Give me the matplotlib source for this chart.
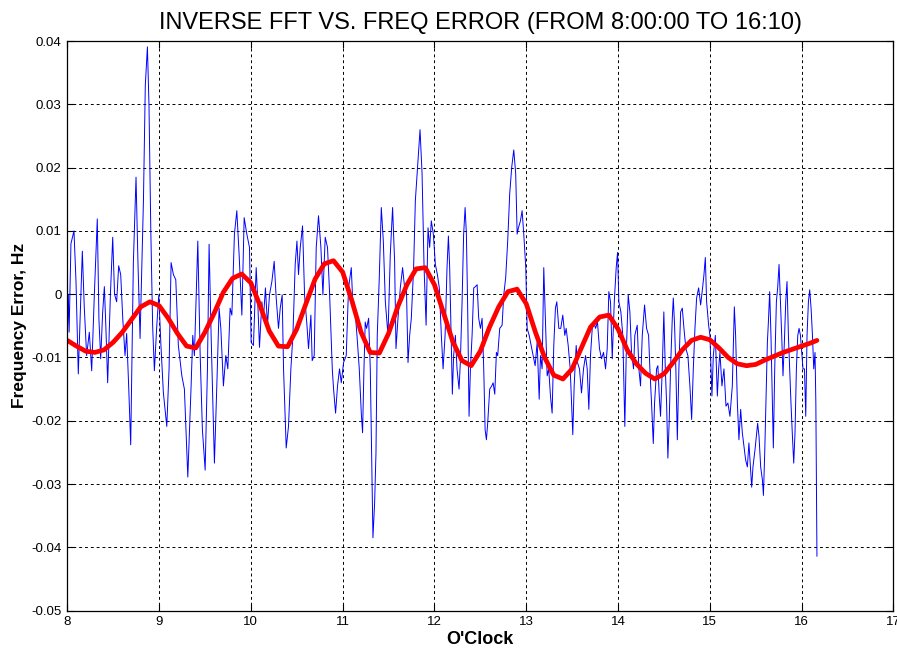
# Frequency error over the working day, raw samples vs. inverse-FFT reconstruction

import matplotlib.pyplot as plt
from matplotlib.ticker import FormatStrFormatter

plt.rcParams['font.family'] = ['Liberation Sans', 'DejaVu Sans']
plt.rcParams['axes.unicode_minus'] = False

# measured frequency error (hours of day, Hz)
raw_hours = [
    8.000, 8.011, 8.020, 8.040, 8.073, 8.095, 8.120, 8.140, 8.164, 8.185,
    8.211, 8.240, 8.266, 8.295, 8.327, 8.345, 8.364, 8.385, 8.404, 8.420,
    8.440, 8.470, 8.495, 8.515, 8.538, 8.560, 8.582, 8.605, 8.629, 8.647,
    8.670, 8.691, 8.720, 8.749, 8.770, 8.793, 8.830, 8.850, 8.873, 8.890,
    8.910, 8.930, 8.949, 8.975, 8.997, 9.020, 9.047, 9.084, 9.109, 9.131,
    9.156, 9.182, 9.210, 9.248, 9.276, 9.313, 9.349, 9.367, 9.385, 9.422,
    9.447, 9.472, 9.502, 9.527, 9.545, 9.567, 9.603, 9.629, 9.654, 9.673,
    9.701, 9.727, 9.749, 9.774, 9.793, 9.821, 9.847, 9.872, 9.902, 9.927,
    9.956, 9.985, 10.003, 10.028, 10.058, 10.072, 10.094, 10.120, 10.137, 10.159,
    10.181, 10.203, 10.229, 10.254, 10.276, 10.301, 10.320, 10.341, 10.356, 10.374,
    10.385, 10.410, 10.436, 10.458, 10.483, 10.502, 10.519, 10.538, 10.563, 10.585,
    10.611, 10.628, 10.654, 10.668, 10.690, 10.712, 10.737, 10.763, 10.785, 10.810,
    10.835, 10.857, 10.887, 10.901, 10.923, 10.944, 10.966, 10.985, 11.010, 11.039,
    11.064, 11.094, 11.108, 11.130, 11.156, 11.181, 11.203, 11.217, 11.232, 11.246,
    11.261, 11.283, 11.301, 11.320, 11.330, 11.348, 11.363, 11.377, 11.399, 11.421,
    11.443, 11.465, 11.494, 11.519, 11.544, 11.566, 11.581, 11.603, 11.628, 11.653,
    11.675, 11.694, 11.712, 11.730, 11.748, 11.773, 11.792, 11.821, 11.843, 11.865,
    11.887, 11.909, 11.930, 11.948, 11.966, 11.988, 12.010, 12.032, 12.053, 12.075,
    12.094, 12.116, 12.137, 12.152, 12.166, 12.181, 12.195, 12.209, 12.228, 12.246,
    12.268, 12.282, 12.301, 12.318, 12.334, 12.348, 12.362, 12.377, 12.392, 12.410,
    12.428, 12.446, 12.465, 12.482, 12.501, 12.519, 12.537, 12.552, 12.566, 12.580,
    12.602, 12.624, 12.639, 12.657, 12.675, 12.689, 12.711, 12.737, 12.755, 12.776,
    12.798, 12.820, 12.842, 12.864, 12.885, 12.901, 12.915, 12.937, 12.955, 12.973,
    12.995, 13.010, 13.032, 13.053, 13.075, 13.097, 13.119, 13.141, 13.155, 13.173,
    13.191, 13.209, 13.228, 13.245, 13.264, 13.282, 13.300, 13.318, 13.333, 13.355,
    13.376, 13.398, 13.420, 13.435, 13.457, 13.479, 13.493, 13.507, 13.522, 13.544,
    13.558, 13.580, 13.602, 13.624, 13.646, 13.664, 13.682, 13.700, 13.719, 13.736,
    13.755, 13.776, 13.798, 13.820, 13.842, 13.864, 13.882, 13.900, 13.918, 13.937,
    13.959, 13.980, 13.995, 14.009, 14.031, 14.052, 14.074, 14.089, 14.111, 14.129,
    14.147, 14.169, 14.183, 14.209, 14.227, 14.245, 14.264, 14.289, 14.311, 14.333,
    14.347, 14.365, 14.384, 14.398, 14.420, 14.434, 14.449, 14.463, 14.482, 14.499,
    14.515, 14.529, 14.543, 14.558, 14.572, 14.591, 14.602, 14.616, 14.630, 14.646,
    14.663, 14.682, 14.700, 14.718, 14.739, 14.761, 14.783, 14.802, 14.820, 14.838,
    14.856, 14.878, 14.900, 14.921, 14.936, 14.951, 14.965, 14.987, 15.001, 15.023,
    15.038, 15.060, 15.082, 15.096, 15.110, 15.132, 15.154, 15.176, 15.197, 15.219,
    15.245, 15.267, 15.281, 15.300, 15.317, 15.336, 15.354, 15.372, 15.390, 15.409,
    15.426, 15.445, 15.456, 15.470, 15.492, 15.507, 15.521, 15.536, 15.554, 15.573,
    15.584, 15.598, 15.609, 15.627, 15.638, 15.652, 15.666, 15.682, 15.692, 15.707,
    15.725, 15.739, 15.754, 15.769, 15.783, 15.797, 15.812, 15.827, 15.841, 15.856,
    15.870, 15.884, 15.900, 15.914, 15.928, 15.943, 15.958, 15.972, 15.987, 16.001,
    16.015, 16.031, 16.045, 16.059, 16.074, 16.088, 16.103, 16.118, 16.132, 16.146,
    16.155, 16.162, 16.167,
]
raw_error = [
    -0.0070, 0.0000, -0.0060, 0.0080, 0.0100, 0.0020, -0.0126, -0.0040, 0.0068, -0.0020,
    -0.0097, -0.0060, -0.0121, 0.0000, 0.0119, -0.0040, -0.0102, -0.0030, 0.0012, -0.0050,
    -0.0140, 0.0000, 0.0090, 0.0000, -0.0012, 0.0045, 0.0031, -0.0040, -0.0097, -0.0062,
    -0.0150, -0.0238, 0.0050, 0.0185, 0.0050, -0.0070, 0.0150, 0.0330, 0.0391, 0.0300,
    0.0100, -0.0050, -0.0121, -0.0050, -0.0001, -0.0080, -0.0156, -0.0209, -0.0118, 0.0050,
    0.0031, 0.0023, -0.0081, -0.0129, -0.0150, -0.0289, -0.0145, -0.0065, -0.0097, 0.0084,
    -0.0092, -0.0214, -0.0278, -0.0118, 0.0079, -0.0065, -0.0267, -0.0145, -0.0022, -0.0054,
    -0.0145, -0.0097, -0.0118, -0.0022, -0.0033, 0.0095, 0.0132, 0.0063, -0.0033, 0.0121,
    0.0095, 0.0074, -0.0076, -0.0081, 0.0042, -0.0001, -0.0084, -0.0012, -0.0038, 0.0010,
    -0.0049, -0.0001, 0.0020, 0.0052, -0.0006, -0.0054, -0.0022, -0.0001, -0.0118, -0.0198,
    -0.0243, -0.0209, -0.0118, -0.0065, 0.0047, 0.0084, 0.0031, 0.0074, 0.0108, -0.0001,
    -0.0049, -0.0086, -0.0033, -0.0105, -0.0097, 0.0074, 0.0124, 0.0074, -0.0001, 0.0090,
    0.0074, 0.0004, -0.0118, -0.0150, -0.0188, -0.0145, -0.0118, -0.0140, -0.0108, -0.0097,
    0.0010, 0.0042, -0.0006, -0.0017, -0.0065, -0.0118, -0.0188, -0.0219, -0.0118, -0.0044,
    -0.0054, -0.0038, -0.0118, -0.0294, -0.0385, -0.0331, -0.0251, -0.0065, 0.0026, 0.0137,
    0.0084, -0.0012, -0.0065, 0.0063, 0.0137, 0.0052, -0.0086, -0.0038, 0.0010, 0.0042,
    0.0010, 0.0015, -0.0108, -0.0065, -0.0038, 0.0042, 0.0148, 0.0212, 0.0260, 0.0191,
    0.0042, -0.0049, 0.0105, 0.0074, 0.0116, 0.0095, 0.0047, 0.0031, 0.0010, -0.0065,
    -0.0118, -0.0065, 0.0042, 0.0092, 0.0042, -0.0065, -0.0158, -0.0097, -0.0065, -0.0118,
    -0.0150, -0.0108, -0.0012, 0.0095, 0.0137, 0.0095, -0.0022, -0.0193, -0.0118, -0.0065,
    0.0010, 0.0012, 0.0015, -0.0038, -0.0054, -0.0038, -0.0118, -0.0214, -0.0230, -0.0204,
    -0.0150, -0.0145, -0.0140, -0.0158, -0.0092, -0.0097, -0.0054, -0.0049, -0.0001, 0.0026,
    0.0084, 0.0159, 0.0201, 0.0228, 0.0191, 0.0095, 0.0105, 0.0116, 0.0132, 0.0095,
    0.0042, -0.0054, -0.0065, -0.0081, -0.0097, -0.0113, -0.0076, -0.0166, -0.0097, -0.0118,
    0.0042, -0.0044, -0.0129, -0.0118, -0.0161, -0.0188, -0.0081, -0.0022, -0.0012, -0.0054,
    -0.0054, -0.0033, -0.0065, -0.0054, -0.0081, -0.0118, -0.0172, -0.0222, -0.0145, -0.0081,
    -0.0108, -0.0118, -0.0156, -0.0118, -0.0097, -0.0118, -0.0182, -0.0097, -0.0054, -0.0044,
    -0.0054, -0.0044, -0.0086, -0.0102, -0.0092, -0.0118, -0.0086, 0.0004, -0.0012, -0.0102,
    -0.0012, 0.0042, 0.0066, -0.0012, -0.0028, -0.0065, -0.0209, -0.0097, -0.0001, -0.0028,
    -0.0092, -0.0118, -0.0065, -0.0049, -0.0118, -0.0145, -0.0065, -0.0017, -0.0054, -0.0065,
    -0.0118, -0.0172, -0.0236, -0.0172, -0.0118, -0.0113, -0.0161, -0.0193, -0.0118, -0.0028,
    -0.0118, -0.0172, -0.0259, -0.0198, -0.0118, -0.0038, -0.0006, -0.0049, -0.0118, -0.0230,
    -0.0118, -0.0028, -0.0022, -0.0054, -0.0086, -0.0097, -0.0145, -0.0198, -0.0118, -0.0054,
    -0.0006, 0.0010, -0.0017, 0.0010, 0.0031, 0.0058, -0.0012, -0.0049, -0.0065, -0.0161,
    -0.0097, -0.0065, -0.0161, -0.0118, -0.0092, -0.0145, -0.0118, -0.0177, -0.0172, -0.0193,
    -0.0145, -0.0020, -0.0065, -0.0172, -0.0230, -0.0182, -0.0219, -0.0241, -0.0262, -0.0273,
    -0.0235, -0.0278, -0.0305, -0.0273, -0.0246, -0.0225, -0.0204, -0.0225, -0.0273, -0.0294,
    -0.0318, -0.0251, -0.0182, -0.0076, -0.0044, 0.0004, -0.0065, -0.0172, -0.0243, -0.0118,
    -0.0012, 0.0010, 0.0047, -0.0012, -0.0065, -0.0129, -0.0076, -0.0012, 0.0020, -0.0065,
    -0.0118, -0.0172, -0.0225, -0.0267, -0.0219, -0.0118, -0.0065, -0.0054, -0.0065, -0.0092,
    -0.0118, -0.0118, -0.0193, -0.0065, -0.0012, 0.0007, -0.0022, -0.0065, -0.0118, -0.0092,
    -0.0172, -0.0305, -0.0414,
]

# inverse FFT of the low-frequency components
ifft_hours = [
    8.0, 8.1, 8.2, 8.3, 8.4, 8.5, 8.6, 8.7, 8.8, 8.9,
    9.0, 9.1, 9.2, 9.3, 9.4, 9.5, 9.6, 9.7, 9.8, 9.9,
    10.0, 10.1, 10.2, 10.3, 10.4, 10.5, 10.6, 10.7, 10.8, 10.9,
    11.0, 11.1, 11.2, 11.3, 11.4, 11.5, 11.6, 11.7, 11.8, 11.9,
    12.0, 12.1, 12.2, 12.3, 12.4, 12.5, 12.6, 12.7, 12.8, 12.9,
    13.0, 13.1, 13.2, 13.3, 13.4, 13.5, 13.6, 13.7, 13.8, 13.9,
    14.0, 14.1, 14.2, 14.3, 14.4, 14.5, 14.6, 14.7, 14.8, 14.9,
    15.0, 15.1, 15.2, 15.3, 15.4, 15.5, 15.6, 15.7, 15.8, 15.9,
    16.0, 16.1, 16.167,
]
ifft_error = [
    -0.0073, -0.0082, -0.0090, -0.0092, -0.0088, -0.0076, -0.0060, -0.0040, -0.0020, -0.0012,
    -0.0018, -0.0038, -0.0062, -0.0082, -0.0085, -0.0060, -0.0030, 0.0003, 0.0025, 0.0032,
    0.0018, -0.0018, -0.0058, -0.0082, -0.0083, -0.0055, -0.0015, 0.0024, 0.0048, 0.0053,
    0.0035, -0.0010, -0.0060, -0.0092, -0.0093, -0.0062, -0.0020, 0.0015, 0.0040, 0.0042,
    0.0015, -0.0030, -0.0075, -0.0105, -0.0113, -0.0090, -0.0052, -0.0020, 0.0004, 0.0008,
    -0.0015, -0.0060, -0.0100, -0.0128, -0.0134, -0.0118, -0.0085, -0.0052, -0.0036, -0.0033,
    -0.0055, -0.0088, -0.0110, -0.0125, -0.0134, -0.0126, -0.0108, -0.0088, -0.0073, -0.0068,
    -0.0072, -0.0085, -0.0100, -0.0110, -0.0113, -0.0111, -0.0104, -0.0098, -0.0092, -0.0087,
    -0.0082, -0.0077, -0.0073,
]

fig = plt.figure(figsize=(8.97, 6.53), dpi=100)
ax = fig.add_axes([0.075, 0.065, 0.921, 0.872])

ax.plot(raw_hours, raw_error, color='blue', linewidth=0.7)
ax.plot(ifft_hours, ifft_error, color='red', linewidth=3.4,
        solid_capstyle='round', solid_joinstyle='round')

ax.set_xlim(8, 17)
ax.set_ylim(-0.05, 0.04)
ax.set_xticks(range(8, 18))
ax.set_yticks([-0.05, -0.04, -0.03, -0.02, -0.01, 0, 0.01, 0.02, 0.03, 0.04])
ax.yaxis.set_major_formatter(FormatStrFormatter('%g'))
ax.tick_params(direction='in', length=5, width=0.8, labelsize=9.5,
               top=True, right=True, pad=4)

ax.grid(True, color='black', linestyle=(0, (3, 3)), linewidth=0.7)
for s in ax.spines.values():
    s.set_linewidth(0.9)

ax.set_title('INVERSE FFT VS. FREQ ERROR (FROM 8:00:00 TO 16:10)',
             fontsize=17, pad=9)
ax.set_xlabel("O'Clock", fontsize=13, fontweight='bold', labelpad=2)
ax.set_ylabel('Frequency Error, Hz', fontsize=12.5, fontweight='bold',
              labelpad=3)

fig.savefig('out.png', dpi=100)
